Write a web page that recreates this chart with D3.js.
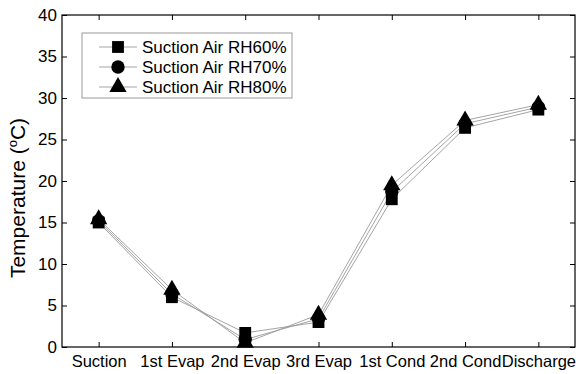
<!DOCTYPE html>
<html>
<head>
<meta charset="utf-8">
<script src="https://cdn.jsdelivr.net/npm/d3@7"></script>
<style>
  body { margin: 0; background: #fff; }
  text { font-family: Arial, "Liberation Sans", sans-serif; fill: #000; }
</style>
</head>
<body>
<svg id="chart"></svg>
<script>
const width = 583;
const height = 374;

// Data
const categories = ["Suction", "1st Evap", "2nd Evap", "3rd Evap", "1st Cond", "2nd Cond", "Discharge"];
const rh60 = [15.0, 6.0, 1.7, 3.0, 17.8, 26.4, 28.6];
const rh70 = [15.2, 6.4, 0.9, 3.4, 18.7, 26.9, 28.9];
const rh80 = [15.4, 6.9, 0.5, 3.9, 19.5, 27.3, 29.2];
const seriesNames = ["Suction Air RH60%", "Suction Air RH70%", "Suction Air RH80%"];
const yTicks = [0, 5, 10, 15, 20, 25, 30, 35, 40];

const series = [
    { name: seriesNames[0], values: rh60, shape: d3.symbolSquare, size: 140 },
    { name: seriesNames[1], values: rh70, shape: d3.symbolCircle, size: 140 },
    { name: seriesNames[2], values: rh80, shape: d3.symbolTriangle, size: 130 }
];

const margin = { top: 15, right: 8, bottom: 27, left: 62 };

const svg = d3.select("#chart")
    .attr("width", width)
    .attr("height", height);

const x = d3.scalePoint()
    .domain(categories)
    .range([margin.left, width - margin.right])
    .padding(0.5);

const y = d3.scaleLinear()
    .domain([0, 40])
    .range([height - margin.bottom, margin.top]);

// Axes (inward ticks on all four sides)
const xAxis = svg.append("g")
    .attr("transform", `translate(0,${height - margin.bottom})`)
    .call(d3.axisBottom(x).tickSize(-5).tickPadding(8));
const xTop = svg.append("g")
    .attr("transform", `translate(0,${margin.top})`)
    .call(d3.axisTop(x).tickSize(-5).tickFormat(""));
const yAxis = svg.append("g")
    .attr("transform", `translate(${margin.left},0)`)
    .call(d3.axisLeft(y).tickValues(yTicks).tickSize(-5).tickPadding(5));
const yRight = svg.append("g")
    .attr("transform", `translate(${width - margin.right},0)`)
    .call(d3.axisRight(y).tickValues(yTicks).tickSize(-5).tickFormat(""));

[xAxis, xTop, yAxis, yRight].forEach(g => {
    g.select(".domain").remove();
    g.selectAll("line").attr("stroke", "#000").attr("stroke-width", 1);
});
xAxis.selectAll("text").style("font-size", "16.5px");
yAxis.selectAll("text").style("font-size", "17px");

// frame
svg.append("rect")
    .attr("x", margin.left)
    .attr("y", margin.top)
    .attr("width", width - margin.right - margin.left)
    .attr("height", height - margin.bottom - margin.top)
    .attr("fill", "none")
    .attr("stroke", "#000")
    .attr("stroke-width", 1.2);

// y axis title
const yTitle = svg.append("text")
    .attr("transform", `translate(25,${(margin.top + height - margin.bottom) / 2 + 17}) rotate(-90)`)
    .attr("text-anchor", "middle")
    .style("font-size", "21px");
yTitle.append("tspan").text("Temperature (");
yTitle.append("tspan").text("o").attr("dy", -8).style("font-size", "13px");
yTitle.append("tspan").text("C)").attr("dy", 8);

// lines
const line = d3.line()
    .x((d, i) => x(categories[i]))
    .y(d => y(d));

svg.append("g").selectAll("path")
    .data(series)
    .enter().append("path")
    .attr("fill", "none")
    .attr("stroke", "#9a9a9a")
    .attr("stroke-width", 0.9)
    .attr("d", d => line(d.values));

// markers
series.forEach(s => {
    svg.append("g").selectAll("path")
        .data(s.values)
        .enter().append("path")
        .attr("transform", (d, i) => `translate(${x(categories[i])},${y(d)})`)
        .attr("d", d3.symbol().type(s.shape).size(s.size))
        .attr("fill", "#000");
});

// legend
const legend = svg.append("g");
legend.append("rect")
    .attr("x", 82).attr("y", 33)
    .attr("width", 210).attr("height", 65)
    .attr("fill", "#fff")
    .attr("stroke", "#999")
    .attr("stroke-width", 1);

const rows = legend.selectAll("g.row")
    .data(series)
    .enter().append("g")
    .attr("class", "row")
    .attr("transform", (d, i) => `translate(0,${47 + i * 20})`);

rows.append("line")
    .attr("x1", 99).attr("x2", 137)
    .attr("stroke", "#9a9a9a")
    .attr("stroke-width", 0.9);
rows.append("path")
    .attr("transform", "translate(118,0)")
    .attr("d", d => d3.symbol().type(d.shape).size(d.size)())
    .attr("fill", "#000");
rows.append("text")
    .attr("x", 142)
    .attr("dy", "0.35em")
    .style("font-size", "17px")
    .text(d => d.name);
</script>
</body>
</html>
